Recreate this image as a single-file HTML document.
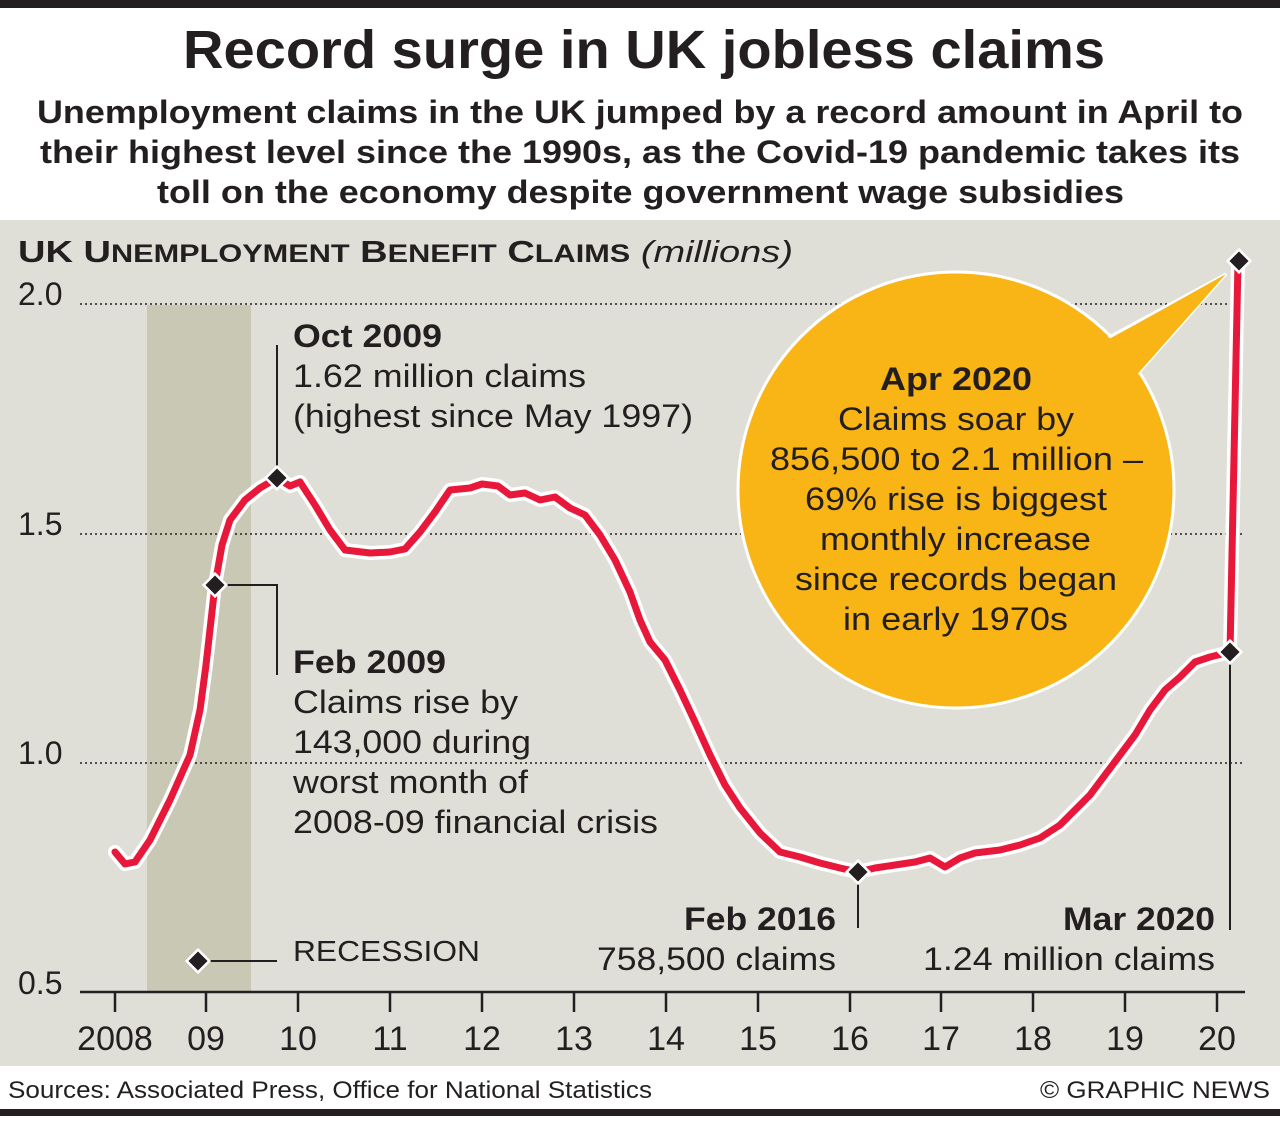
<!DOCTYPE html>
<html><head><meta charset="utf-8"><style>
body{margin:0;width:1280px;height:1116px;overflow:hidden;background:#fff;font-family:"Liberation Sans",Arial,sans-serif}
</style></head><body>
<svg width="1280" height="1116" xmlns="http://www.w3.org/2000/svg" font-family="Liberation Sans, Arial, sans-serif">
<rect x="0" y="0" width="1280" height="8" fill="#231f20"/>
<text x="183" y="68" font-size="54" font-weight="bold" fill="#231f20" textLength="922" lengthAdjust="spacingAndGlyphs">Record surge in UK jobless claims</text>
<g font-size="32" font-weight="bold" fill="#231f20">
<text x="37" y="123" textLength="1206" lengthAdjust="spacingAndGlyphs">Unemployment claims in the UK jumped by a record amount in April to</text>
<text x="40" y="163" textLength="1200" lengthAdjust="spacingAndGlyphs">their highest level since the 1990s, as the Covid-19 pandemic takes its</text>
<text x="157" y="203" textLength="967" lengthAdjust="spacingAndGlyphs">toll on the economy despite government wage subsidies</text>
</g>
<rect x="0" y="220" width="1280" height="846" fill="#dfdfd7"/>
<rect x="147" y="305" width="104" height="687" fill="#c9c8b5"/>
<text x="18" y="262" font-size="31" font-weight="bold" fill="#231f20" textLength="775" lengthAdjust="spacingAndGlyphs">UK U<tspan font-size="25">NEMPLOYMENT</tspan> B<tspan font-size="25">ENEFIT</tspan> C<tspan font-size="25">LAIMS</tspan> <tspan font-weight="normal" font-style="italic">(millions)</tspan></text>
<g stroke="#231f20" stroke-width="1.5" stroke-dasharray="2,3">
<line x1="80" y1="304" x2="1245" y2="304"/><line x1="80" y1="534" x2="1245" y2="534"/><line x1="80" y1="763" x2="1245" y2="763"/>
</g>
<g font-size="32" fill="#231f20">
<text x="18" y="305">2.0</text><text x="18" y="535">1.5</text><text x="18" y="764">1.0</text><text x="18" y="994">0.5</text>
</g>
<line x1="80" y1="992" x2="1245" y2="992" stroke="#231f20" stroke-width="2.5"/>
<g stroke="#231f20" stroke-width="2.5">
<line x1="115" y1="992" x2="115" y2="1012"/><line x1="206" y1="992" x2="206" y2="1012"/><line x1="298" y1="992" x2="298" y2="1012"/><line x1="390" y1="992" x2="390" y2="1012"/><line x1="482" y1="992" x2="482" y2="1012"/><line x1="574" y1="992" x2="574" y2="1012"/><line x1="666" y1="992" x2="666" y2="1012"/><line x1="758" y1="992" x2="758" y2="1012"/><line x1="850" y1="992" x2="850" y2="1012"/><line x1="941" y1="992" x2="941" y2="1012"/><line x1="1033" y1="992" x2="1033" y2="1012"/><line x1="1125" y1="992" x2="1125" y2="1012"/><line x1="1217" y1="992" x2="1217" y2="1012"/>
</g>
<g font-size="34" fill="#231f20" text-anchor="middle">
<text x="115" y="1050">2008</text><text x="206" y="1050">09</text><text x="298" y="1050">10</text><text x="390" y="1050">11</text><text x="482" y="1050">12</text><text x="574" y="1050">13</text><text x="666" y="1050">14</text><text x="758" y="1050">15</text><text x="850" y="1050">16</text><text x="941" y="1050">17</text><text x="1033" y="1050">18</text><text x="1125" y="1050">19</text><text x="1217" y="1050">20</text>
</g>
<!-- bubble -->
<g fill="#f9b516" stroke="#fff" stroke-width="3">
<circle cx="956" cy="490" r="218"/>
<polygon points="1100,342 1226,274 1134,378"/>
</g>
<circle cx="956" cy="490" r="216" fill="#f9b516"/>
<polygon points="1090,350 1226,274 1134,378 1120,360" fill="#f9b516"/>
<g font-size="32" fill="#231f20" lengthAdjust="spacingAndGlyphs">
<text x="880" y="390" font-weight="bold" textLength="152" lengthAdjust="spacingAndGlyphs">Apr 2020</text>
<text x="838" y="430" textLength="236" lengthAdjust="spacingAndGlyphs">Claims soar by</text>
<text x="770" y="470" textLength="373" lengthAdjust="spacingAndGlyphs">856,500 to 2.1 million –</text>
<text x="805" y="510" textLength="302" lengthAdjust="spacingAndGlyphs">69% rise is biggest</text>
<text x="820" y="550" textLength="271" lengthAdjust="spacingAndGlyphs">monthly increase</text>
<text x="795" y="590" textLength="322" lengthAdjust="spacingAndGlyphs">since records began</text>
<text x="843" y="630" textLength="225" lengthAdjust="spacingAndGlyphs">in early 1970s</text>
</g>
<!-- leader lines -->
<g stroke="#231f20" stroke-width="2" fill="none">
<line x1="277" y1="478" x2="277" y2="345"/>
<polyline points="215,585 277,585 277,675"/>
<line x1="858" y1="872" x2="858" y2="928"/>
<line x1="1230" y1="652" x2="1230" y2="930"/>
<line x1="198" y1="961" x2="277" y2="961"/>
</g>
<!-- line -->
<g fill="none" stroke-linejoin="round" stroke-linecap="round">
<path d="M115,852 L125,864 L135,862 L150,840 L170,800 L190,755 L200,710 L206,665 L215,585 L222,545 L230,520 L245,500 L260,488 L277,478 L290,486 L300,482 L315,505 L330,530 L345,550 L370,553 L390,552 L405,549 L420,532 L435,512 L450,490 L470,488 L482,484 L498,486 L510,495 L525,493 L540,500 L555,497 L570,508 L585,515 L600,535 L615,560 L630,592 L640,620 L650,642 L665,660 L680,690 L695,722 L710,755 L725,785 L740,808 L760,833 L780,852 L800,857 L820,863 L840,868 L858,872 L875,868 L895,865 L915,862 L930,858 L945,867 L960,858 L975,853 L1000,850 L1020,845 L1040,838 L1060,825 L1075,810 L1090,795 L1105,775 L1120,755 L1135,735 L1150,710 L1165,690 L1180,677 L1195,662 L1210,657 L1230,652 L1238,262" stroke="#fff" stroke-width="14"/>
<path d="M115,852 L125,864 L135,862 L150,840 L170,800 L190,755 L200,710 L206,665 L215,585 L222,545 L230,520 L245,500 L260,488 L277,478 L290,486 L300,482 L315,505 L330,530 L345,550 L370,553 L390,552 L405,549 L420,532 L435,512 L450,490 L470,488 L482,484 L498,486 L510,495 L525,493 L540,500 L555,497 L570,508 L585,515 L600,535 L615,560 L630,592 L640,620 L650,642 L665,660 L680,690 L695,722 L710,755 L725,785 L740,808 L760,833 L780,852 L800,857 L820,863 L840,868 L858,872 L875,868 L895,865 L915,862 L930,858 L945,867 L960,858 L975,853 L1000,850 L1020,845 L1040,838 L1060,825 L1075,810 L1090,795 L1105,775 L1120,755 L1135,735 L1150,710 L1165,690 L1180,677 L1195,662 L1210,657 L1230,652 L1238,262" stroke="#e8183a" stroke-width="7"/>
</g>
<!-- markers -->
<g fill="#231f20" stroke="#fff" stroke-width="2.5">
<rect x="-8" y="-8" width="16" height="16" transform="translate(277,478) rotate(45)"/>
<rect x="-8" y="-8" width="16" height="16" transform="translate(215,585) rotate(45)"/>
<rect x="-8" y="-8" width="16" height="16" transform="translate(858,872) rotate(45)"/>
<rect x="-8" y="-8" width="16" height="16" transform="translate(1230,652) rotate(45)"/>
<rect x="-8" y="-8" width="16" height="16" transform="translate(1239,261) rotate(45)"/>
<rect x="-8" y="-8" width="16" height="16" transform="translate(198,961) rotate(45)"/>
</g>
<g font-size="32" fill="#231f20">
<text x="293" y="347" font-weight="bold" textLength="149" lengthAdjust="spacingAndGlyphs">Oct 2009</text>
<text x="293" y="387" textLength="293" lengthAdjust="spacingAndGlyphs">1.62 million claims</text>
<text x="293" y="427" textLength="400" lengthAdjust="spacingAndGlyphs">(highest since May 1997)</text>
<text x="293" y="673" font-weight="bold" textLength="153" lengthAdjust="spacingAndGlyphs">Feb 2009</text>
<text x="293" y="713" textLength="225" lengthAdjust="spacingAndGlyphs">Claims rise by</text>
<text x="293" y="753" textLength="238" lengthAdjust="spacingAndGlyphs">143,000 during</text>
<text x="293" y="793" textLength="235" lengthAdjust="spacingAndGlyphs">worst month of</text>
<text x="293" y="833" textLength="365" lengthAdjust="spacingAndGlyphs">2008-09 financial crisis</text>
<text x="293" y="961" font-size="29" textLength="187" lengthAdjust="spacingAndGlyphs">RECESSION</text>
<text x="684" y="930" font-weight="bold" textLength="152" lengthAdjust="spacingAndGlyphs">Feb 2016</text>
<text x="597" y="970" textLength="239" lengthAdjust="spacingAndGlyphs">758,500 claims</text>
<text x="1063" y="930" font-weight="bold" textLength="152" lengthAdjust="spacingAndGlyphs">Mar 2020</text>
<text x="923" y="970" textLength="292" lengthAdjust="spacingAndGlyphs">1.24 million claims</text>
</g>
<text x="8" y="1098" font-size="24" fill="#231f20" textLength="644" lengthAdjust="spacingAndGlyphs">Sources: Associated Press, Office for National Statistics</text>
<text x="1040" y="1098" font-size="24" fill="#231f20" textLength="230" lengthAdjust="spacingAndGlyphs">© GRAPHIC NEWS</text>
<rect x="0" y="1109" width="1280" height="7" fill="#231f20"/>
</svg>
</body></html>
